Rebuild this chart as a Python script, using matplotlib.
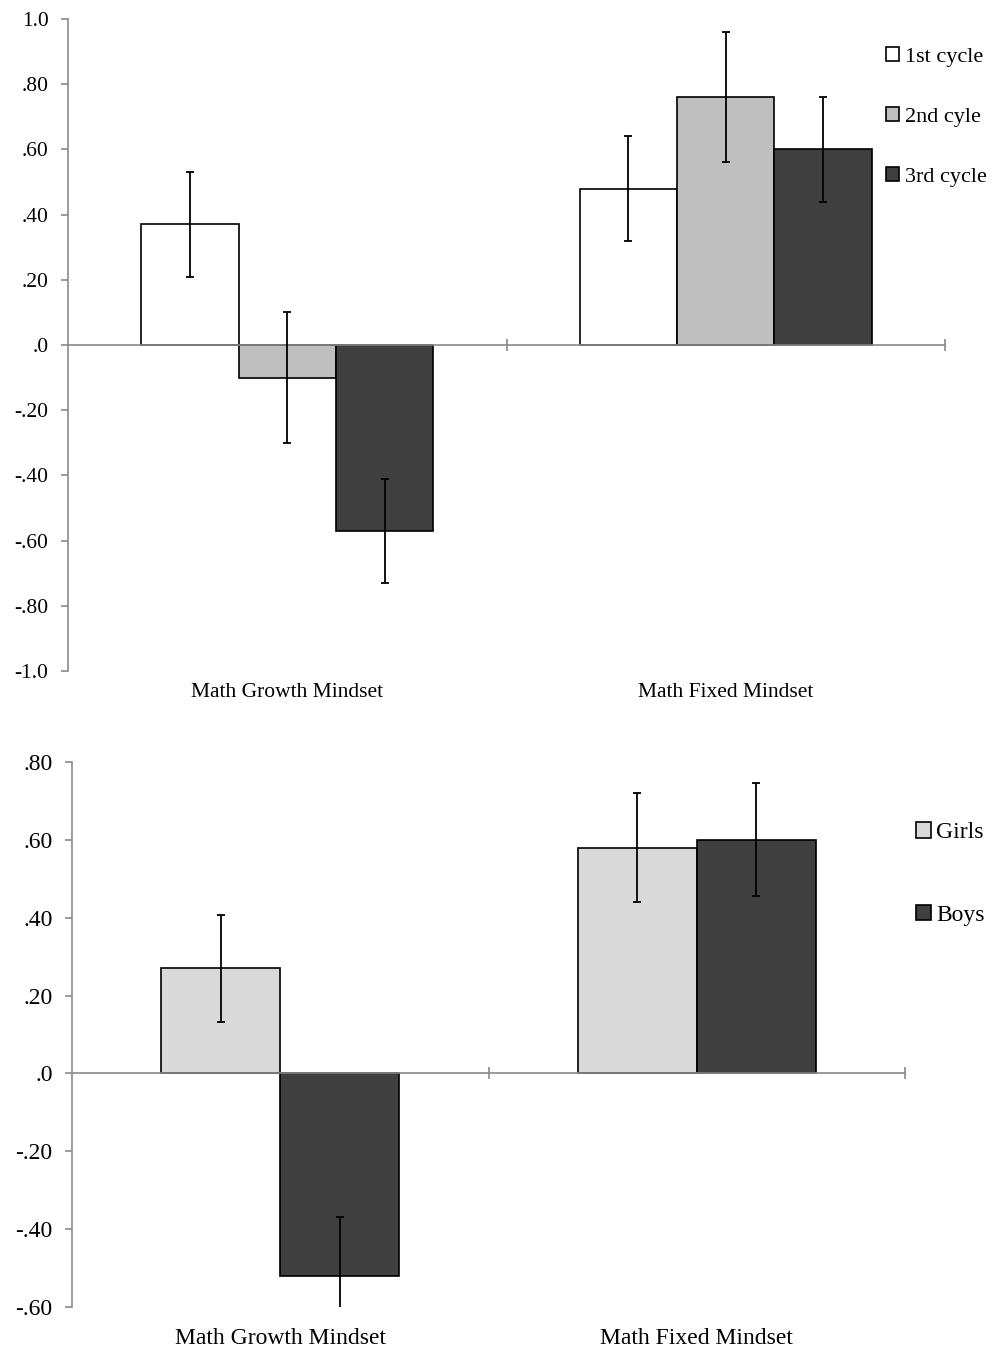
import numpy as np
import matplotlib
matplotlib.use("Agg")
import matplotlib.pyplot as plt
from matplotlib.transforms import blended_transform_factory

plt.rcParams['font.family'] = ['Liberation Serif', 'DejaVu Serif']

# top panel: three cycles
categories = ["Math Growth Mindset", "Math Fixed Mindset"]
cycles = ["1st cycle", "2nd cyle", "3rd cycle"]
cycle_means = [[0.37, 0.48], [-0.10, 0.76], [-0.57, 0.60]]
cycle_errs = [[0.16, 0.16], [0.20, 0.20], [0.16, 0.16]]
top_ticks = [-1.0, -0.8, -0.6, -0.4, -0.2, 0.0, 0.2, 0.4, 0.6, 0.8, 1.0]
top_ticklabels = ["-1.0", "-.80", "-.60", "-.40", "-.20", ".0", ".20", ".40", ".60", ".80", "1.0"]

# bottom panel: gender
genders = ["Girls", "Boys"]
gender_means = [[0.27, 0.58], [-0.52, 0.60]]
gender_errs = [[0.137, 0.14], [0.15, 0.145]]
bot_ticks = [-0.6, -0.4, -0.2, 0.0, 0.2, 0.4, 0.6, 0.8]
bot_ticklabels = ["-.60", "-.40", "-.20", ".0", ".20", ".40", ".60", ".80"]

cycle_colors = ["#ffffff", "#bfbfbf", "#3f3f3f"]
gender_colors = ["#d9d9d9", "#404040"]
axis_gray = "#8a8a8a"

fig = plt.figure(figsize=(10.03, 13.48), dpi=100)
ax1 = fig.add_axes([68/1003, 1 - 671/1348, 877/1003, 652/1348])
ax2 = fig.add_axes([72/1003, 1 - 1307/1348, 833/1003, 545/1348])


def style_axes(ax, ticks, labels, fs, label_drop):
    for s in ["top", "right"]:
        ax.spines[s].set_visible(False)
    ax.spines["left"].set_color(axis_gray)
    ax.spines["left"].set_linewidth(1.2)
    ax.spines["bottom"].set_position(("data", 0))
    ax.spines["bottom"].set_color(axis_gray)
    ax.spines["bottom"].set_linewidth(1.2)
    ax.set_xlim(-0.5, 1.5)
    ax.set_xticks([0.5, 1.5])
    ax.set_xticklabels([])
    ax.tick_params(axis="x", direction="inout", length=9, width=1.2, color=axis_gray)
    ax.set_yticks(ticks)
    ax.set_yticklabels(labels, fontsize=fs)
    ax.set_ylim(ticks[0], ticks[-1])
    ax.tick_params(axis="y", direction="out", length=5, width=1.2, color=axis_gray, pad=9)
    tr = blended_transform_factory(ax.transData, ax.transAxes)
    for i, c in enumerate(categories):
        ax.text(i, label_drop, c, transform=tr, ha="center", va="center", fontsize=fs)


x = np.arange(len(categories))

w1 = 0.2223
for k, name in enumerate(cycles):
    ax1.bar(x + (k - 1) * w1, cycle_means[k], width=w1, color=cycle_colors[k],
            edgecolor="black", linewidth=1.2, label=name, zorder=2)
    ax1.errorbar(x + (k - 1) * w1, cycle_means[k], yerr=cycle_errs[k], fmt="none",
                 ecolor="black", elinewidth=1.3, capsize=3, capthick=1.3, zorder=3)
style_axes(ax1, top_ticks, top_ticklabels, 15.5, -0.033)
ax1.legend(loc="upper left", bbox_to_anchor=(886/1003, 1 - 47/1348), bbox_transform=fig.transFigure,
           frameon=False, fontsize=16, handlelength=0.6, handleheight=0.6, handletextpad=0.25,
           labelspacing=1.8, borderaxespad=0, borderpad=0)

w2 = 0.2857
for k, name in enumerate(genders):
    ax2.bar(x + (k - 0.5) * w2, gender_means[k], width=w2, color=gender_colors[k],
            edgecolor="black", linewidth=1.2, label=name, zorder=2)
    ax2.errorbar(x + (k - 0.5) * w2, gender_means[k], yerr=gender_errs[k], fmt="none",
                 ecolor="black", elinewidth=1.3, capsize=3, capthick=1.3, zorder=3)
style_axes(ax2, bot_ticks, bot_ticklabels, 17, -0.058)
ax2.legend(loc="upper left", bbox_to_anchor=(916/1003, 1 - 822/1348), bbox_transform=fig.transFigure,
           frameon=False, fontsize=17, handlelength=0.65, handleheight=0.65, handletextpad=0.2,
           labelspacing=2.6, borderaxespad=0, borderpad=0)

fig.savefig("out.png", dpi=100)
